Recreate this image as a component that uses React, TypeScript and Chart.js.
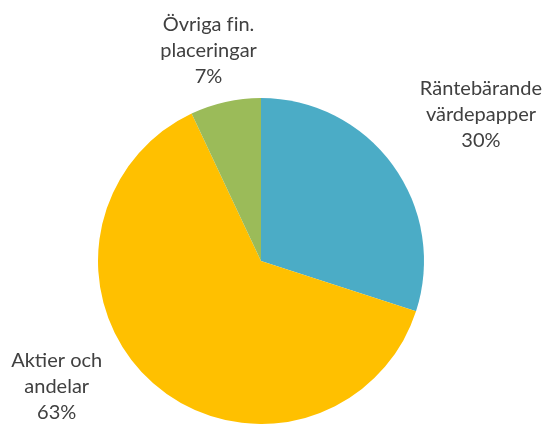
import React, { useEffect, useRef } from "react";
import { Chart, registerables } from "chart.js";

Chart.register(...registerables);

const categories = [
  ["Räntebärande", "värdepapper"],
  ["Aktier och", "andelar"],
  ["Övriga fin.", "placeringar"],
];
const values = [30, 63, 7];
const valueLabels = ["30%", "63%", "7%"];
const colors = ["#4BACC6", "#FFC000", "#9BBB59"];

// label placement: angle (deg, clockwise from top) and distance as a factor of radius
const labelPlacement = [
  { angle: 56.4, factor: 1.62 },
  { angle: 238.5, factor: 1.47 },
  { angle: -14, factor: 1.33 },
];

const labelPlugin = {
  id: "outsideLabels",
  afterDraw(chart: any) {
    const ctx = chart.ctx;
    const meta = chart.getDatasetMeta(0);
    ctx.save();
    ctx.font = '20px Lato, "Open Sans", sans-serif';
    ctx.fillStyle = "#404040";
    ctx.textAlign = "center";
    ctx.textBaseline = "middle";
    meta.data.forEach((arc: any, i: number) => {
      const p = labelPlacement[i];
      const a = (p.angle * Math.PI) / 180;
      const r = arc.outerRadius * p.factor;
      const x = arc.x + r * Math.sin(a);
      const y = arc.y - r * Math.cos(a);
      const lines = [...categories[i], valueLabels[i]];
      const lh = 26;
      lines.forEach((t, k) => {
        ctx.fillText(t.replace("fi", "f\u200Ci"), x, y + (k - 1) * lh);
      });
    });
    ctx.restore();
  },
};

export default function App() {
  const ref = useRef<HTMLCanvasElement>(null);
  useEffect(() => {
    const chart = new Chart(ref.current!, {
      type: "pie",
      data: {
        labels: categories.map((c) => c.join(" ")),
        datasets: [
          {
            data: values,
            backgroundColor: colors,
            borderWidth: 0,
          },
        ],
      },
      options: {
        animation: false,
        responsive: false,
        layout: { padding: { left: 98, right: 122, top: 98, bottom: 0 } },
        plugins: { legend: { display: false }, tooltip: { enabled: false } },
      },
      plugins: [labelPlugin],
    });
    return () => chart.destroy();
  }, []);
  return (
    <div style={{ position: "fixed", left: 0, top: 0, width: 546, height: 424, background: "#fff" }}>
      <canvas ref={ref} width={546} height={424} />
    </div>
  );
}
